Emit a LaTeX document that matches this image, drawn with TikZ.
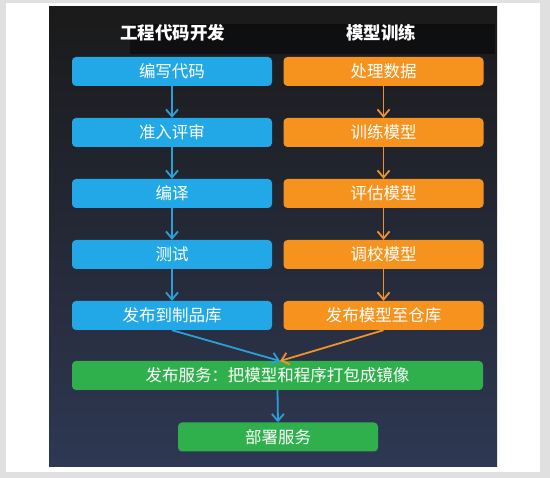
\documentclass[tikz,border=0pt]{standalone}
\usepackage{fontspec}
\setmainfont{Noto Sans CJK SC}
\usetikzlibrary{arrows.meta}
\definecolor{bgtop}{HTML}{1A1A1A}
\definecolor{bgbot}{HTML}{2E3853}
\definecolor{boxblue}{HTML}{22A8E6}
\definecolor{boxorange}{HTML}{F6921E}
\definecolor{boxgreen}{HTML}{2FB04C}
\definecolor{arrblue}{HTML}{2A9FD8}
\definecolor{arrorange}{HTML}{EF922B}
\tikzset{
  box/.style={rounded corners=4pt, minimum width=200pt, minimum height=29pt,
    inner sep=0pt, text=white, font=\fontsize{16.5}{18}\selectfont},
  bluebox/.style={box, fill=boxblue},
  orangebox/.style={box, fill=boxorange},
  greenbox/.style={box, fill=boxgreen},
  titletext/.style={text=white, font=\bfseries\fontsize{17.5}{20}\selectfont},
  flow/.style={line width=1.8pt, -{Straight Barb[length=7pt,width=12pt,line width=1.8pt]}},
}
\begin{document}
\begin{tikzpicture}[x=1pt,y=-1pt]
\useasboundingbox (0,0) rectangle (550,478);
\fill[black!12] (0,0) rectangle (550,478);
\fill[white] (6,3) rectangle (540,472);
\shade[top color=bgtop, bottom color=bgbot] (49,7) rectangle (497,467);
\fill[black, opacity=0.45] (130,24) rectangle (495,54);

\node[titletext] (t1) at (173,33) {工程代码开发};
\node[titletext] (t2) at (381,33) {模型训练};

\node[bluebox] (b1) at (172,71.5) {编写代码};
\node[bluebox] (b2) at (172,132.5) {准入评审};
\node[bluebox] (b3) at (172,193.5) {编译};
\node[bluebox] (b4) at (172,254.5) {测试};
\node[bluebox] (b5) at (172,315.5) {发布到制品库};

\node[orangebox] (o1) at (383.5,71.5) {处理数据};
\node[orangebox] (o2) at (383.5,132.5) {训练模型};
\node[orangebox] (o3) at (383.5,193.5) {评估模型};
\node[orangebox] (o4) at (383.5,254.5) {调校模型};
\node[orangebox] (o5) at (383.5,315.5) {发布模型至仓库};

\node[greenbox, minimum width=411pt] (g1) at (277.5,375.5) {发布服务：把模型和程序打包成镜像};
\node[greenbox] (g2) at (278,437) {部署服务};

\coordinate (m) at (280,361);

\draw[flow, arrblue] (b1) -- (b2);
\draw[flow, arrblue] (b2) -- (b3);
\draw[flow, arrblue] (b3) -- (b4);
\draw[flow, arrblue] (b4) -- (b5);
\draw[flow, arrorange] (o1) -- (o2);
\draw[flow, arrorange] (o2) -- (o3);
\draw[flow, arrorange] (o3) -- (o4);
\draw[flow, arrorange] (o4) -- (o5);
\draw[flow, arrblue] (b5.south) -- (m);
\draw[flow, arrorange] (o5.south) -- (m);
\draw[flow, arrblue] (g1.south) -- (g2.north);
\end{tikzpicture}
\end{document}
